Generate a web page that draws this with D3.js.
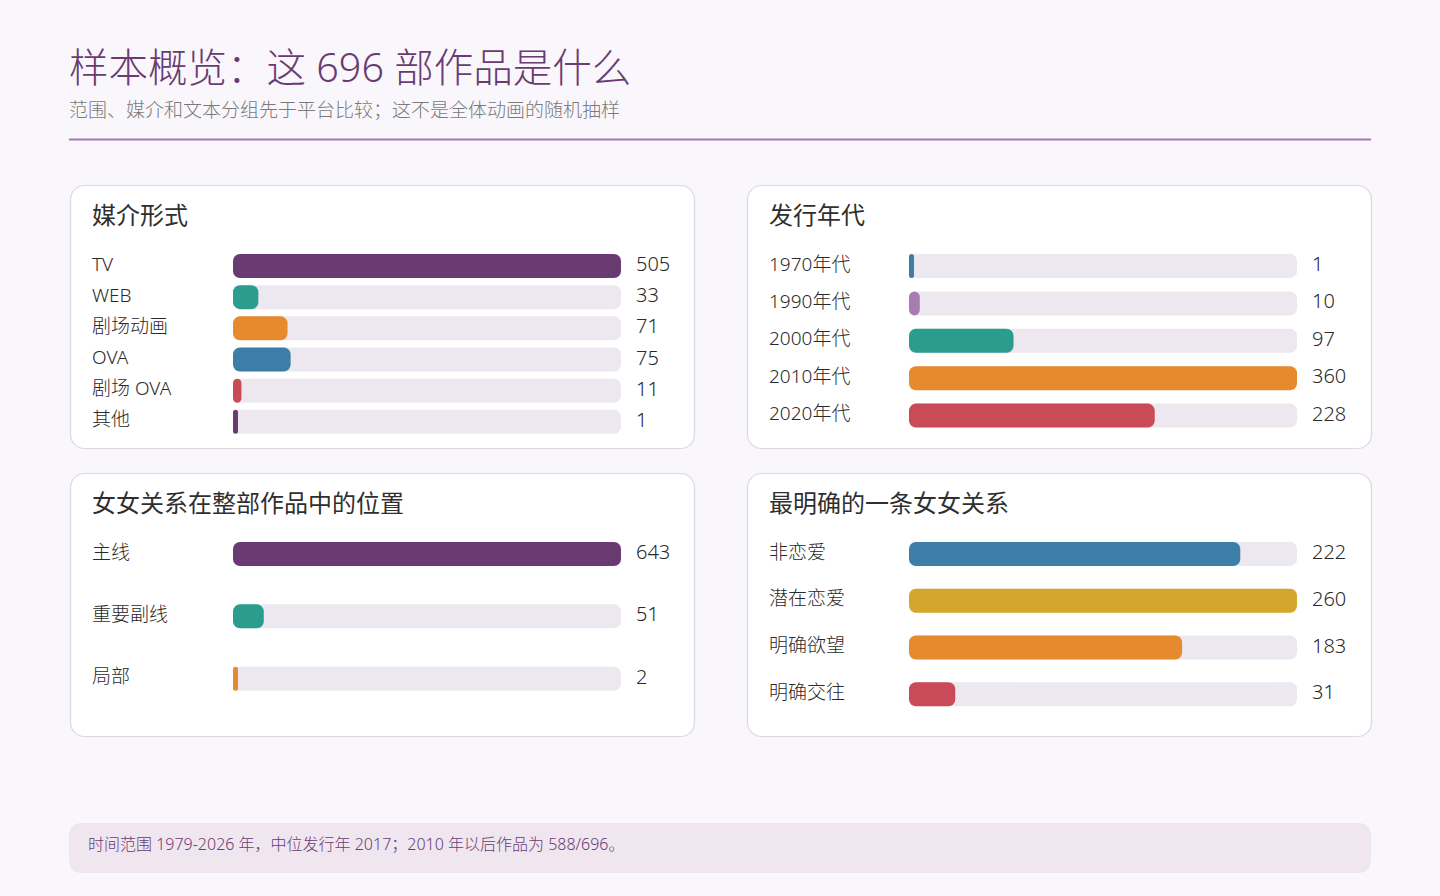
<!DOCTYPE html>
<html>
<head>
<meta charset="utf-8">
<script src="https://cdn.jsdelivr.net/npm/d3@7"></script>
<style>
  html, body { margin: 0; padding: 0; background: #f9f7fb; }
  svg { display: block; font-family: "Noto Sans", "Noto Sans CJK SC", sans-serif; font-weight: 300; }
</style>
</head>
<body>
<svg id="chart" width="1440" height="896"></svg>
<script>
const titleText = "样本概览：这 696 部作品是什么";
const subtitleText = "范围、媒介和文本分组先于平台比较；这不是全体动画的随机抽样";
const footerText = "时间范围 1979-2026 年，中位发行年 2017；2010 年以后作品为 588/696。";

const mediaLabels = ["TV", "WEB", "剧场动画", "OVA", "剧场 OVA", "其他"];
const mediaValues = [505, 33, 71, 75, 11, 1];
const mediaColors = ["#6a3b72", "#2a9d8f", "#e68a2e", "#3c7ea8", "#c84b57", "#6a3b72"];

const decadeLabels = ["1970年代", "1990年代", "2000年代", "2010年代", "2020年代"];
const decadeValues = [1, 10, 97, 360, 228];
const decadeColors = ["#3c7ea8", "#a87bb5", "#2a9d8f", "#e68a2e", "#c84b57"];

const placeLabels = ["主线", "重要副线", "局部"];
const placeValues = [643, 51, 2];
const placeColors = ["#6a3b72", "#2a9d8f", "#e68a2e"];

const relationLabels = ["非恋爱", "潜在恋爱", "明确欲望", "明确交往"];
const relationValues = [222, 260, 183, 31];
const relationColors = ["#3c7ea8", "#d4a72c", "#e68a2e", "#c84b57"];

const panels = [
  { title: "媒介形式", labels: mediaLabels, values: mediaValues, colors: mediaColors, col: 0, row: 0 },
  { title: "发行年代", labels: decadeLabels, values: decadeValues, colors: decadeColors, col: 1, row: 0 },
  { title: "女女关系在整部作品中的位置", labels: placeLabels, values: placeValues, colors: placeColors, col: 0, row: 1 },
  { title: "最明确的一条女女关系", labels: relationLabels, values: relationValues, colors: relationColors, col: 1, row: 1 },
];

const svg = d3.select("#chart");

// header
svg.append("text")
  .attr("x", 69).attr("y", 82)
  .attr("fill", "#6a3b72")
  .attr("font-size", 39.5)
  .text(titleText);

svg.append("text")
  .attr("x", 69).attr("y", 117)
  .attr("fill", "#7a7a7a")
  .attr("font-size", 19)
  .text(subtitleText);

svg.append("line")
  .attr("x1", 69).attr("x2", 1371)
  .attr("y1", 139.5).attr("y2", 139.5)
  .attr("stroke", "#a878b8")
  .attr("stroke-width", 2);

// panels
const panelW = 624;
const panelH = 263;
const panelX = d3.scaleOrdinal().domain([0, 1]).range([70, 747]);
const panelY = d3.scaleOrdinal().domain([0, 1]).range([185, 473]);
const barH = 24;
const trackW = 388;

panels.forEach((p) => {
  const g = svg.append("g")
    .attr("transform", `translate(${panelX(p.col)},${panelY(p.row)})`);

  g.append("rect")
    .attr("x", 0.5).attr("y", 0.5)
    .attr("width", panelW).attr("height", panelH)
    .attr("rx", 14)
    .attr("fill", "#ffffff")
    .attr("stroke", "#dcd8e0")
    .attr("stroke-width", 1.2);

  g.append("text")
    .attr("x", 22).attr("y", 39)
    .attr("fill", "#2f2f2f")
    .attr("font-size", 24)
    .attr("font-weight", 400)
    .text(p.title);

  const trackX = p.col === 0 ? 163 : 162;
  const y = d3.scaleBand().domain(p.labels).range([69, 69 + 187]);
  const x = d3.scaleLinear().domain([0, d3.max(p.values)]).range([0, trackW]);

  const rows = g.selectAll(".row")
    .data(p.labels.map((label, i) => ({ label, value: p.values[i], color: p.colors[i] })))
    .join("g")
    .attr("class", "row")
    .attr("transform", (d) => `translate(0,${y(d.label)})`);

  rows.append("rect")
    .attr("x", trackX).attr("width", trackW)
    .attr("height", barH).attr("rx", 7)
    .attr("fill", "#ede8f0");

  rows.append("rect")
    .attr("x", trackX)
    .attr("width", (d) => Math.max(x(d.value), 5))
    .attr("height", barH)
    .attr("rx", (d) => Math.min(7, Math.max(x(d.value), 5) / 2))
    .attr("fill", (d) => d.color);

  rows.append("text")
    .attr("x", 22).attr("y", barH / 2 - 2)
    .attr("dy", "0.35em")
    .attr("fill", "#2a2a2a")
    .attr("font-size", 19)
    .text((d) => d.label);

  rows.append("text")
    .attr("x", trackX + trackW + 15).attr("y", barH / 2 - 2)
    .attr("dy", "0.35em")
    .attr("fill", "#2a2a2a")
    .attr("font-size", 20)
    .text((d) => d.value);
});

// footer
svg.append("rect")
  .attr("x", 69).attr("y", 823)
  .attr("width", 1302).attr("height", 50)
  .attr("rx", 12)
  .attr("fill", "#efe6f0");

svg.append("text")
  .attr("x", 88).attr("y", 844)
  .attr("dy", "0.35em")
  .attr("fill", "#6a3b72")
  .attr("font-size", 16)
  .text(footerText);
</script>
</body>
</html>
